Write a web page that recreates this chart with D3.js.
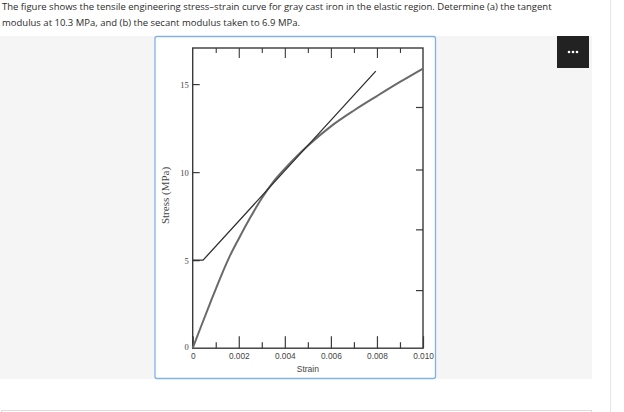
<!DOCTYPE html>
<html>
<head>
<meta charset="utf-8">
<script src="https://cdn.jsdelivr.net/npm/d3@7"></script>
<style>
html,body{margin:0;padding:0;background:#fff;}
svg{display:block;}
</style>
</head>
<body>
<svg id="chart" width="624" height="412"></svg>
<script>
// ---- data ----
const questionLines = [
  "The figure shows the tensile engineering stress–strain curve for gray cast iron in the elastic region. Determine (a) the tangent",
  "modulus at 10.3 MPa, and (b) the secant modulus taken to 6.9 MPa."
];
const curveStrain = [0, 0.0004, 0.0008, 0.0012, 0.0016, 0.002, 0.0025, 0.003, 0.0035, 0.004, 0.0045, 0.005, 0.006, 0.007, 0.008, 0.009, 0.010];
const curveStress = [0, 1.36, 2.70, 4.0, 5.2, 6.22, 7.42, 8.52, 9.45, 10.2, 10.88, 11.5, 12.6, 13.5, 14.32, 15.12, 15.88];
const tangentStrain = [0, 0.00045, 0.00795];
const tangentStress = [5.0, 5.0, 15.74];
const xTickValues = [0, 0.001, 0.002, 0.003, 0.004, 0.005, 0.006, 0.007, 0.008, 0.009, 0.010];
const xTickLabels = ["0", "", "0.002", "", "0.004", "", "0.006", "", "0.008", "", "0.010"];
const yTickValues = [0, 5, 10, 15];
const yTickLabels = ["0", "5", "10", "15"];
const rightTickValues = [3.3, 6.75, 10.15, 13.7];
const xTitle = "Strain";
const yTitle = "Stress (MPa)";

const svg = d3.select("#chart");

// page background elements
svg.append("rect").attr("x", 0).attr("y", 36).attr("width", 592).attr("height", 343).attr("fill", "#f5f5f5");
svg.append("line").attr("x1", 610.5).attr("x2", 610.5).attr("y1", 0).attr("y2", 412).attr("stroke", "#e6e6e6");
svg.append("rect").attr("x", 1.5).attr("y", 410.5).attr("width", 590).attr("height", 10).attr("fill", "#fff").attr("stroke", "#dcdcdc");

// question text
svg.selectAll("text.q").data(questionLines).join("text")
  .attr("class", "q")
  .attr("x", 2).attr("y", (d, i) => 10 + i * 15.5)
  .attr("font-family", "Open Sans, sans-serif").attr("font-size", 9.5)
  .attr("fill", "#2b2b2b").text(d => d);

// menu button
svg.append("rect").attr("x", 557).attr("y", 36).attr("width", 32).attr("height", 32).attr("fill", "#222");
svg.selectAll("circle.dot").data([-4, 0, 4]).join("circle").attr("class", "dot")
  .attr("cx", d => 573 + d).attr("cy", 52).attr("r", 1.3).attr("fill", "#fff");

// figure card
svg.append("rect").attr("x", 155).attr("y", 36.5).attr("width", 280.5).attr("height", 342)
  .attr("rx", 2).attr("fill", "#fff").attr("stroke", "#7fb2e5").attr("stroke-width", 1.3);

// scales
const x = d3.scaleLinear().domain([0, 0.010]).range([192.7, 423]);
const y = d3.scaleLinear().domain([0, 17.05]).range([348.2, 48]);

const axisColor = "#3a3a3a";
const g = svg.append("g");

// frame
g.append("rect").attr("x", x(0)).attr("y", y(17.05)).attr("width", x(0.010) - x(0)).attr("height", y(0) - y(17.05))
  .attr("fill", "none").attr("stroke", axisColor).attr("stroke-width", 1.4);

// bottom axis (ticks inward)
const bottomAxis = d3.axisBottom(x).tickValues(xTickValues).tickSize(0).tickPadding(0).tickFormat("");
const bAx = g.append("g").attr("transform", `translate(0,${y(0)})`).call(bottomAxis);
bAx.select(".domain").remove();
bAx.selectAll(".tick").append("line")
  .attr("y1", 0).attr("y2", (d, i) => i % 2 === 0 ? -12 : -6)
  .attr("stroke", axisColor).attr("stroke-width", 1.2);
bAx.selectAll(".tick").append("text")
  .attr("y", 11).attr("text-anchor", "middle")
  .attr("font-family", "Arial, Liberation Sans, sans-serif").attr("font-size", 8.3)
  .attr("fill", "#444").text((d, i) => xTickLabels[i]);

// top axis ticks inward
const topAxis = d3.axisTop(x).tickValues(xTickValues.slice(1, 10)).tickSize(0).tickFormat("");
const tAx = g.append("g").attr("transform", `translate(0,${y(17.05)})`).call(topAxis);
tAx.select(".domain").remove();
tAx.selectAll(".tick").append("line")
  .attr("y1", 0).attr("y2", (d, i) => i % 2 === 1 ? 10 : 5)
  .attr("stroke", axisColor).attr("stroke-width", 1.1);

// left axis (ticks inward)
const leftAxis = d3.axisLeft(y).tickValues(yTickValues).tickSize(0).tickFormat("");
const lAx = g.append("g").attr("transform", `translate(${x(0)},0)`).call(leftAxis);
lAx.select(".domain").remove();
lAx.selectAll(".tick").filter(d => d > 0).append("line")
  .attr("x1", 0).attr("x2", 7).attr("stroke", axisColor).attr("stroke-width", 1.2);
lAx.selectAll(".tick").append("text")
  .attr("x", -4).attr("dy", (d) => d === 0 ? "0.15em" : "0.35em").attr("text-anchor", "end")
  .attr("font-family", "Liberation Serif, Times New Roman, serif").attr("font-size", 8.5)
  .attr("fill", "#444").text((d, i) => yTickLabels[i]);

// right axis ticks inward
const rightAxis = d3.axisRight(y).tickValues(rightTickValues).tickSize(0).tickFormat("");
const rAx = g.append("g").attr("transform", `translate(${x(0.010)},0)`).call(rightAxis);
rAx.select(".domain").remove();
rAx.selectAll(".tick").append("line")
  .attr("x1", 0).attr("x2", -7).attr("stroke", axisColor).attr("stroke-width", 1.2);

// axis titles
g.append("text").attr("x", x(0.005)).attr("y", 372)
  .attr("text-anchor", "middle").attr("font-family", "Arial, Liberation Sans, sans-serif")
  .attr("font-size", 8.5).attr("fill", "#444").text(xTitle);
g.append("text").attr("transform", `translate(168.5,195.5) rotate(-90)`)
  .attr("text-anchor", "middle").attr("font-family", "Liberation Serif, Times New Roman, serif")
  .attr("font-size", 11).attr("fill", "#444").text(yTitle);

// curves
const line = d3.line().x(d => x(d[0])).y(d => y(d[1])).curve(d3.curveMonotoneX);
const curveData = curveStrain.map((s, i) => [s, curveStress[i]]);
g.append("path").datum(curveData).attr("d", line)
  .attr("fill", "none").attr("stroke", "#6a6a6a").attr("stroke-width", 2);

const tanLine = d3.line().x(d => x(d[0])).y(d => y(d[1]));
const tanData = tangentStrain.map((s, i) => [s, tangentStress[i]]);
g.append("path").datum(tanData).attr("d", tanLine)
  .attr("fill", "none").attr("stroke", "#2e2e2e").attr("stroke-width", 1.3);
</script>
</body>
</html>
